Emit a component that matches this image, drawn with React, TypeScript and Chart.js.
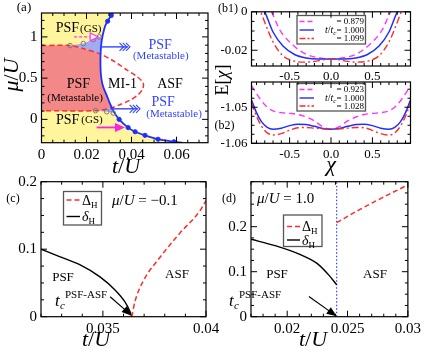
import React, { useEffect, useRef } from "react";
import { Chart, registerables } from "chart.js";

Chart.register(...registerables);

const SERIF = '"Liberation Serif", "Times New Roman", serif';
const W = 424, H = 352;
const YW = 36, XH = 22;

const YELLOW = "#fff59d";
const SALMON = "#f38888";
const LAVENDER = "#a2aaf2";
const BLUE = "#1f2fff";
const TBLUE = "#3344ff";
const RED = "#ff2a2a";
const MAGENTA = "#ff33ff";

// ---------------- Panel (a) data ----------------
const aXRange = [0, 0.074];
const aYRange = [-0.283, 1.29];
const aXTicks = [0, 0.02, 0.04, 0.06];
const aXTickLabels = ["0", "0.02", "0.04", "0.06"];
const aYTicks = [0, 0.5, 1];
const aYTickLabels = ["0", "0.5", "1"];

const boundaryT = [0.0318, 0.0300, 0.0284, 0.0272, 0.0266, 0.0263, 0.0262, 0.0263, 0.0267, 0.0275, 0.0290, 0.0303, 0.0320, 0.0345, 0.0385, 0.0416, 0.0460, 0.0518, 0.0589, 0.0625];
const boundaryMu = [1.29, 1.22, 1.14, 1.02, 0.92, 0.82, 0.70, 0.58, 0.48, 0.39, 0.29, 0.20, 0.10, 0.0, -0.10, -0.15, -0.194, -0.241, -0.272, -0.283];

const redT = [0, 0.0127, 0.0193, 0.0260, 0.0327, 0.0379, 0.0423, 0.0452, 0.0450, 0.0430, 0.0395, 0.0350, 0.0304, 0.0245, 0];
const redMu = [0.895, 0.895, 0.852, 0.794, 0.698, 0.60, 0.523, 0.44, 0.37, 0.30, 0.235, 0.18, 0.135, 0.105, 0.105];

const salmonT = [0, 0.0127, 0.0193, 0.0260, 0.0262, 0.0263, 0.0267, 0.0275, 0.0290, 0.0303, 0.0312, 0.0304, 0.0245, 0];
const salmonMu = [0.895, 0.895, 0.852, 0.794, 0.70, 0.58, 0.48, 0.39, 0.29, 0.20, 0.137, 0.135, 0.105, 0.105];

const lavUpT = [0.0127, 0.0186, 0.0231, 0.0257, 0.0272, 0.0266, 0.0263, 0.0260, 0.0193];
const lavUpMu = [0.895, 0.919, 0.969, 1.0, 1.02, 0.92, 0.82, 0.794, 0.852];
const lavLoT = [0.0245, 0.0312, 0.0320, 0.0324, 0.0290];
const lavLoMu = [0.105, 0.137, 0.10, 0.077, 0.093];

const dotT = [0.0310, 0.0294, 0.0345, 0.0385, 0.0416, 0.0460, 0.0518, 0.0589];
const dotMu = [1.26, 1.19, 0.0, -0.10, -0.15, -0.194, -0.241, -0.272];

const circT = [0.0127, 0.0186, 0.0231, 0.0257, 0.0240, 0.0290, 0.0319];
const circMu = [0.895, 0.919, 0.969, 1.0, 0.105, 0.093, 0.077];

const pinkArrowT = [0.0145, 0.0252];
const pinkArrowMu = 1.0;
const magArrowT = [0.0245, 0.0371];
const magArrowMu = -0.098;
const blueArrowUpT = [0.0262, 0.0393];
const blueArrowUpMu = 0.879;
const blueArrowLoT = [0.0306, 0.0438];
const blueArrowLoMu = 0.128;

// ---------------- Panel (b) data ----------------
const bXRange = [-0.96, 0.96];
const bXTicks = [-0.5, 0, 0.5];
const bXTickLabels = ["-0.5", "0.0", "0.5"];
const b1YRange = [-0.0282, 0];
const b1YTicks = [0, -0.02];
const b1YTickLabels = ["0", "-0.02"];
const b2YRange = [-1.06, -1.043];
const b2YTicks = [-1.05, -1.06];
const b2YTickLabels = ["-1.05", "-1.06"];

const b1ChiM = [-0.80, -0.72, -0.62, -0.46, -0.30, -0.13, 0, 0.13, 0.30, 0.46, 0.62, 0.72, 0.80];
const b1EM = [0.004, 0, -0.0093, -0.0173, -0.0221, -0.0240, -0.0245, -0.0240, -0.0221, -0.0173, -0.0093, 0, 0.004];
const b1ChiB = [-0.86, -0.80, -0.70, -0.58, -0.44, -0.30, -0.15, 0, 0.15, 0.30, 0.44, 0.58, 0.70, 0.80, 0.86];
const b1EB = [0.004, 0, -0.0105, -0.0178, -0.0222, -0.0240, -0.0245, -0.0245, -0.0245, -0.0240, -0.0222, -0.0178, -0.0105, 0, 0.004];
const b1ChiR = [-0.90, -0.85, -0.78, -0.70, -0.58, -0.44, -0.32, -0.20, -0.10, 0, 0.10, 0.20, 0.32, 0.44, 0.58, 0.70, 0.78, 0.85, 0.90];
const b1ER = [0.004, 0, -0.0077, -0.0157, -0.0229, -0.0257, -0.0262, -0.0258, -0.0250, -0.0245, -0.0250, -0.0258, -0.0262, -0.0257, -0.0229, -0.0157, -0.0077, 0, 0.004];

const b2Chi = [-0.96, -0.90, -0.84, -0.77, -0.70, -0.60, -0.50, -0.40, -0.30, -0.20, -0.10, 0, 0.10, 0.20, 0.30, 0.40, 0.50, 0.60, 0.70, 0.77, 0.84, 0.90, 0.96];
const b2EM = [-1.0440, -1.0462, -1.0482, -1.0500, -1.0510, -1.0515, -1.0517, -1.0520, -1.0527, -1.0538, -1.0554, -1.0561, -1.0554, -1.0538, -1.0527, -1.0520, -1.0517, -1.0515, -1.0510, -1.0500, -1.0482, -1.0462, -1.0440];
const b2EB = [-1.0480, -1.0515, -1.0540, -1.0556, -1.0561, -1.0558, -1.0551, -1.0547, -1.0548, -1.0553, -1.0559, -1.0561, -1.0559, -1.0553, -1.0548, -1.0547, -1.0551, -1.0558, -1.0561, -1.0556, -1.0540, -1.0515, -1.0480];
const b2ER = [-1.0489, -1.0525, -1.0552, -1.0571, -1.0577, -1.0573, -1.0564, -1.0557, -1.0556, -1.0558, -1.0560, -1.0561, -1.0560, -1.0558, -1.0556, -1.0557, -1.0564, -1.0573, -1.0577, -1.0571, -1.0552, -1.0525, -1.0489];

// ---------------- Panel (c) data ----------------
const cXRange = [0.032, 0.04];
const cYRange = [0, 0.2];
const cXTicks = [0.035, 0.04];
const cXTickLabels = ["0.035", "0.04"];
const cYTicks = [0, 0.1, 0.2];
const cYTickLabels = ["0", "0.1", "0.2"];
const cDeltaSmallT = [0.032, 0.0329, 0.0339, 0.03486, 0.03559, 0.03607, 0.03632, 0.0364];
const cDeltaSmall = [0.100, 0.089, 0.0766, 0.059, 0.0396, 0.022, 0.0074, 0];
const cDeltaBigT = [0.0364, 0.03656, 0.03696, 0.03777, 0.03874, 0.03971, 0.0400];
const cDeltaBig = [0, 0.023, 0.053, 0.088, 0.124, 0.157, 0.172];
const cArrowT = [0.03535, 0.0364];
const cArrowV = [0.0296, 0.0015];

// ---------------- Panel (d) data ----------------
const dXRange = [0.017, 0.03];
const dYRange = [0, 0.3];
const dXTicks = [0.02, 0.025, 0.03];
const dXTickLabels = ["0.02", "0.025", "0.03"];
const dYTicks = [0, 0.1, 0.2];
const dYTickLabels = ["0", "0.1", "0.2"];
const dDeltaSmallT = [0.017, 0.019, 0.021, 0.0225, 0.0234, 0.0241];
const dDeltaSmall = [0.172, 0.158, 0.139, 0.118, 0.094, 0.071];
const dDeltaBigT = [0.0241, 0.026, 0.028, 0.030];
const dDeltaBig = [0.209, 0.238, 0.266, 0.293];
const dTc = 0.0241;
const dArrowT = [0.0218, 0.0241];
const dArrowV = [0.0447, 0.001];

// ---------------- helpers ----------------
const pts = (xs: number[], ys: number[]) => xs.map((x, i) => ({ x, y: ys[i] }));
const fnt = (size: number, it = false) => `${it ? "italic " : ""}${size}px ${SERIF}`;

type Seg = { s: string; size: number; it?: boolean; dy?: number; dx?: number };

function rich(ctx: CanvasRenderingContext2D, segs: Seg[], x: number, y: number, align = "left", color = "#000") {
  ctx.save();
  ctx.fillStyle = color;
  ctx.textBaseline = "alphabetic";
  ctx.textAlign = "left";
  let w = 0;
  for (const g of segs) {
    ctx.font = fnt(g.size, g.it);
    w += ctx.measureText(g.s).width + (g.dx || 0);
  }
  let cx = align === "center" ? x - w / 2 : align === "right" ? x - w : x;
  for (const g of segs) {
    ctx.font = fnt(g.size, g.it);
    cx += g.dx || 0;
    ctx.fillText(g.s, cx, y + (g.dy || 0));
    cx += ctx.measureText(g.s).width;
  }
  ctx.restore();
}

function richRot(ctx: CanvasRenderingContext2D, segs: Seg[], x: number, y: number) {
  ctx.save();
  ctx.translate(x, y);
  ctx.rotate(-Math.PI / 2);
  rich(ctx, segs, 0, 0, "center");
  ctx.restore();
}

function arrow(ctx: CanvasRenderingContext2D, x0: number, y0: number, x1: number, y1: number, o: any) {
  const ang = Math.atan2(y1 - y0, x1 - x0);
  const ux = Math.cos(ang), uy = Math.sin(ang);
  const px = -uy, py = ux;
  const len = o.len ?? 10, hw = o.hw ?? 4;
  ctx.save();
  ctx.strokeStyle = o.color;
  ctx.fillStyle = o.color;
  ctx.lineWidth = o.width ?? 1.2;
  ctx.setLineDash(o.dash ?? []);
  const ex = o.head === "chevron" ? x1 - ux * 2 : x1 - ux * len * 0.8;
  const ey = o.head === "chevron" ? y1 - uy * 2 : y1 - uy * len * 0.8;
  ctx.beginPath();
  ctx.moveTo(x0, y0);
  ctx.lineTo(ex, ey);
  ctx.stroke();
  ctx.setLineDash([]);
  if (o.head === "chevron") {
    ctx.lineWidth = 1.1;
    for (let k = 0; k < 3; k++) {
      const tx = x1 - ux * k * 3.2, ty = y1 - uy * k * 3.2;
      ctx.beginPath();
      ctx.moveTo(tx - ux * 4 + px * 4, ty - uy * 4 + py * 4);
      ctx.lineTo(tx, ty);
      ctx.lineTo(tx - ux * 4 - px * 4, ty - uy * 4 - py * 4);
      ctx.stroke();
    }
  } else {
    ctx.beginPath();
    ctx.moveTo(x1, y1);
    ctx.lineTo(x1 - ux * len + px * hw, y1 - uy * len + py * hw);
    ctx.lineTo(x1 - ux * len - px * hw, y1 - uy * len - py * hw);
    ctx.closePath();
    if (o.head === "open") {
      ctx.fillStyle = "#fff";
      ctx.fill();
      ctx.lineWidth = 1.2;
      ctx.stroke();
    } else {
      ctx.fill();
    }
  }
  ctx.restore();
}

function legendBox(ctx: CanvasRenderingContext2D, box: number[], rows: any[], lx: number[], tx: number, align: string, size: number) {
  ctx.save();
  ctx.fillStyle = "#fff";
  ctx.fillRect(box[0], box[1], box[2] - box[0], box[3] - box[1]);
  ctx.strokeStyle = "#555";
  ctx.lineWidth = 1.3;
  ctx.strokeRect(box[0], box[1], box[2] - box[0], box[3] - box[1]);
  for (const r of rows) {
    ctx.strokeStyle = r.color;
    ctx.lineWidth = r.width ?? 1.4;
    ctx.setLineDash(r.dash ?? []);
    ctx.beginPath();
    ctx.moveTo(lx[0], r.y);
    ctx.lineTo(lx[1], r.y);
    ctx.stroke();
    ctx.setLineDash([]);
    rich(ctx, r.segs, tx, r.y + size * 0.33, align);
  }
  ctx.restore();
}

function tcLabel(ctx: CanvasRenderingContext2D, x: number, y: number) {
  rich(ctx, [{ s: "t", size: 17, it: true }], x, y);
  rich(ctx, [{ s: "c", size: 11, it: true }], x + 5, y + 3);
  rich(ctx, [{ s: "PSF-ASF", size: 11 }], x + 10, y - 8);
}

function frame(chart: any, sp: any) {
  const { ctx, chartArea: a } = chart;
  const xs = chart.scales.x, ys = chart.scales.y;
  const steps = (min: number, max: number, step: number) => {
    const out: number[] = [];
    const n0 = Math.ceil(min / step - 1e-6), n1 = Math.floor(max / step + 1e-6);
    for (let n = n0; n <= n1; n++) out.push(n * step);
    return out;
  };
  ctx.save();
  ctx.strokeStyle = "#000";
  ctx.lineWidth = 1;
  ctx.beginPath();
  const isMaj = (arr: number[], v: number, st: number) => arr.some((t) => Math.abs(t - v) < st * 0.05);
  for (const v of steps(xs.min, xs.max, sp.xMinor)) {
    if (isMaj(sp.xTicks, v, sp.xMinor)) continue;
    const p = xs.getPixelForValue(v);
    ctx.moveTo(p, a.bottom); ctx.lineTo(p, a.bottom - 3);
    ctx.moveTo(p, a.top); ctx.lineTo(p, a.top + 3);
  }
  for (const v of sp.xTicks) {
    const p = xs.getPixelForValue(v);
    ctx.moveTo(p, a.bottom); ctx.lineTo(p, a.bottom - 6);
    ctx.moveTo(p, a.top); ctx.lineTo(p, a.top + 6);
  }
  for (const v of steps(ys.min, ys.max, sp.yMinor)) {
    if (isMaj(sp.yTicks, v, sp.yMinor)) continue;
    const p = ys.getPixelForValue(v);
    ctx.moveTo(a.left, p); ctx.lineTo(a.left + 3, p);
    ctx.moveTo(a.right, p); ctx.lineTo(a.right - 3, p);
  }
  for (const v of sp.yTicks) {
    const p = ys.getPixelForValue(v);
    ctx.moveTo(a.left, p); ctx.lineTo(a.left + 6, p);
    ctx.moveTo(a.right, p); ctx.lineTo(a.right - 6, p);
  }
  ctx.stroke();
  ctx.lineWidth = 1.2;
  ctx.strokeRect(a.left, a.top, a.right - a.left, a.bottom - a.top);
  ctx.restore();
}

function build(canvas: HTMLCanvasElement, sp: any) {
  const [L, T, R, B] = sp.rect;
  return new Chart(canvas, {
    type: "scatter",
    data: { datasets: sp.datasets },
    options: {
      responsive: false,
      animation: false,
      events: [],
      layout: { padding: { left: L - YW, top: T, right: W - R, bottom: H - B - XH } },
      plugins: { legend: { display: false }, tooltip: { enabled: false } },
      scales: {
        x: {
          type: "linear",
          min: sp.xr[0],
          max: sp.xr[1],
          grid: { display: false, drawTicks: false },
          border: { display: false },
          afterBuildTicks: (s: any) => { s.ticks = sp.xTicks.map((v: number) => ({ value: v })); },
          afterFit: (s: any) => { s.height = XH; },
          ticks: {
            autoSkip: false, maxRotation: 0, padding: 3, color: "#000",
            font: { family: SERIF, size: sp.tickSize },
            callback: (_v: any, i: number) => sp.xLabels[i],
          },
        },
        y: {
          type: "linear",
          min: sp.yr[0],
          max: sp.yr[1],
          grid: { display: false, drawTicks: false },
          border: { display: false },
          afterBuildTicks: (s: any) => { s.ticks = sp.yTicks.map((v: number) => ({ value: v })); },
          afterFit: (s: any) => { s.width = YW; },
          ticks: {
            autoSkip: false, padding: 4, color: "#000",
            font: { family: SERIF, size: sp.tickSize },
            callback: (_v: any, i: number) => sp.yLabels[i],
          },
        },
      },
    } as any,
    plugins: [
      {
        id: "deco",
        afterDatasetsDraw: (c: any) => sp.deco(c),
        afterDraw: (c: any) => frame(c, sp),
      },
    ],
  } as any);
}

const poly = (data: any[], color: string, order: number, tension = 0) => ({
  data, showLine: true, fill: "shape", backgroundColor: color, borderColor: "rgba(0,0,0,0)",
  borderWidth: 1, pointRadius: 0, tension, order,
});
const curve = (data: any[], color: string, o: any = {}) => ({
  data, showLine: true, fill: false, borderColor: color, borderWidth: o.width ?? 1.5,
  borderDash: o.dash ?? [], pointRadius: 0, tension: o.tension ?? 0,
  cubicInterpolationMode: o.mono ? "monotone" : "default", order: o.order ?? 5,
});

// ---------------- Panels ----------------
function makeA(cv: HTMLCanvasElement) {
  const boundary = pts(boundaryT, boundaryMu);
  const yellow = [{ x: aXRange[0], y: aYRange[0] }, { x: aXRange[0], y: aYRange[1] }, ...boundary];
  return build(cv, {
    rect: [41.5, 7.5, 208, 142.7],
    xr: aXRange, yr: aYRange, xTicks: aXTicks, xLabels: aXTickLabels, yTicks: aYTicks, yLabels: aYTickLabels,
    xMinor: 0.005, yMinor: 0.1, tickSize: 15,
    datasets: [
      poly(yellow, YELLOW, 30, 0.3),
      poly(pts(salmonT, salmonMu), SALMON, 29, 0.2),
      poly(pts(lavUpT, lavUpMu), LAVENDER, 28, 0),
      poly(pts(lavLoT, lavLoMu), LAVENDER, 28, 0),
      curve(pts(redT, redMu), RED, { dash: [5, 3], width: 1.5, tension: 0.3, order: 6 }),
      curve(boundary, BLUE, { width: 1.8, tension: 0.3, order: 5 }),
      { data: pts(dotT, dotMu), showLine: false, pointRadius: 2.1, pointBackgroundColor: BLUE, pointBorderColor: BLUE, order: 2 },
      { data: pts(circT, circMu), showLine: false, pointRadius: 2.3, pointBackgroundColor: "rgba(0,0,0,0)", pointBorderColor: "#7a7a8a", pointBorderWidth: 1, order: 1 },
    ],
    deco: (c: any) => {
      const ctx = c.ctx;
      const X = (v: number) => c.scales.x.getPixelForValue(v);
      const Y = (v: number) => c.scales.y.getPixelForValue(v);
      arrow(ctx, X(pinkArrowT[0]), Y(pinkArrowMu), X(pinkArrowT[1]), Y(pinkArrowMu), { color: MAGENTA, dash: [3, 2], head: "open", width: 1.3, len: 8, hw: 4 });
      arrow(ctx, X(magArrowT[0]), Y(magArrowMu), X(magArrowT[1]), Y(magArrowMu), { color: "#ff22e0", head: "filled", width: 1.8, len: 10, hw: 4.5 });
      arrow(ctx, X(blueArrowUpT[0]), Y(blueArrowUpMu), X(blueArrowUpT[1]), Y(blueArrowUpMu), { color: TBLUE, head: "chevron", width: 1.4 });
      arrow(ctx, X(blueArrowLoT[0]), Y(blueArrowLoMu), X(blueArrowLoT[1]), Y(blueArrowLoMu), { color: TBLUE, head: "chevron", width: 1.4 });
      rich(ctx, [{ s: "PSF", size: 14 }, { s: "(GS)", size: 11, dx: 1 }], X(0.0165), Y(1.12) + 5, "center");
      rich(ctx, [{ s: "PSF", size: 14 }, { s: "(GS)", size: 11, dx: 2, dy: -1 }], X(0.0168), Y(0.0) + 5, "center");
      rich(ctx, [{ s: "PSF", size: 14 }], X(0.0164), Y(0.445) + 5, "center");
      rich(ctx, [{ s: "(Metastable)", size: 11 }], X(0.0149), Y(0.27) + 4, "center");
      rich(ctx, [{ s: "MI-1", size: 14 }], X(0.036), Y(0.445) + 5, "center");
      rich(ctx, [{ s: "ASF", size: 14 }], X(0.0571), Y(0.445) + 5, "center");
      rich(ctx, [{ s: "PSF", size: 14 }], X(0.0527), Y(0.91) + 5, "center", TBLUE);
      rich(ctx, [{ s: "(Metastable)", size: 11 }], X(0.053), Y(0.786) + 4, "center", TBLUE);
      rich(ctx, [{ s: "PSF", size: 14 }], X(0.0541), Y(0.221) + 5, "center", TBLUE);
      rich(ctx, [{ s: "(Metastable)", size: 11 }], X(0.0589), Y(0.077) + 4, "center", TBLUE);
      rich(ctx, [{ s: "(a)", size: 13 }], 24, 11, "center");
      richRot(ctx, [{ s: "μ", size: 22, it: true }, { s: "/", size: 22 }, { s: "U", size: 22, it: true }], 18, 75);
      rich(ctx, [{ s: "t", size: 22, it: true }, { s: "/", size: 22 }, { s: "U", size: 22, it: true }], 126, 173, "center");
    },
  });
}

function makeB(cv: HTMLCanvasElement, which: number) {
  const top = which === 1;
  const tt = (s: string) => [{ s: "t", size: 10, it: true }, { s: "/", size: 10 }, { s: "t", size: 10, it: true }, { s: "c", size: 7, it: true, dy: 2 }, { s, size: 9 }];
  return build(cv, {
    rect: top ? [251.5, 7.3, 410.5, 66] : [251.5, 82, 410.5, 143.3],
    xr: bXRange, yr: top ? b1YRange : b2YRange,
    xTicks: bXTicks, xLabels: bXTickLabels,
    yTicks: top ? b1YTicks : b2YTicks, yLabels: top ? b1YTickLabels : b2YTickLabels,
    xMinor: 0.1, yMinor: top ? 0.005 : 0.0025, tickSize: 13,
    datasets: top
      ? [
          curve(pts(b1ChiM, b1EM), MAGENTA, { dash: [6, 4], width: 1.4, mono: true, order: 3 }),
          curve(pts(b1ChiB, b1EB), BLUE, { width: 1.5, mono: true, order: 2 }),
          curve(pts(b1ChiR, b1ER), RED, { dash: [7, 3, 2, 3], width: 1.4, mono: true, order: 1 }),
        ]
      : [
          curve(pts(b2Chi, b2EM), MAGENTA, { dash: [6, 4], width: 1.4, mono: true, order: 3 }),
          curve(pts(b2Chi, b2EB), BLUE, { width: 1.5, mono: true, order: 2 }),
          curve(pts(b2Chi, b2ER), RED, { dash: [7, 3, 2, 3], width: 1.4, mono: true, order: 1 }),
        ],
    deco: (c: any) => {
      const ctx = c.ctx;
      if (top) {
        legendBox(ctx, [297, 15.5, 365.5, 44], [
          { y: 21.5, color: MAGENTA, dash: [5, 3], segs: [{ s: "= 0.879", size: 9 }] },
          { y: 30, color: BLUE, segs: tt("= 1.000") },
          { y: 38.5, color: RED, dash: [6, 2, 2, 2], segs: [{ s: "= 1.099", size: 9 }] },
        ], [299.5, 314], 364, "right", 9);
        rich(ctx, [{ s: "(b1)", size: 12 }], 228, 11.5, "center");
        richRot(ctx, [{ s: "E", size: 18 }, { s: "[", size: 18 }, { s: "χ", size: 18, it: true }, { s: "]", size: 18 }], 228, 80);
      } else {
        legendBox(ctx, [297, 83.5, 365.5, 111], [
          { y: 89.5, color: MAGENTA, dash: [5, 3], segs: [{ s: "= 0.923", size: 9 }] },
          { y: 98, color: BLUE, segs: tt("= 1.000") },
          { y: 106, color: RED, dash: [6, 2, 2, 2], segs: [{ s: "= 1.028", size: 9 }] },
        ], [299.5, 314], 364, "right", 9);
        rich(ctx, [{ s: "(b2)", size: 12 }], 224.5, 129, "center");
        rich(ctx, [{ s: "χ", size: 22, it: true }], 331, 171, "center");
      }
    },
  });
}

function makeC(cv: HTMLCanvasElement) {
  return build(cv, {
    rect: [41, 181.7, 206, 316.7],
    xr: cXRange, yr: cYRange, xTicks: cXTicks, xLabels: cXTickLabels, yTicks: cYTicks, yLabels: cYTickLabels,
    xMinor: 0.001, yMinor: 0.025, tickSize: 15,
    datasets: [
      curve(pts(cDeltaSmallT, cDeltaSmall), "#000", { width: 1.4, mono: true, order: 2 }),
      curve(pts(cDeltaBigT, cDeltaBig), RED, { dash: [5, 3], width: 1.5, mono: true, order: 1 }),
    ],
    deco: (c: any) => {
      const ctx = c.ctx;
      const X = (v: number) => c.scales.x.getPixelForValue(v);
      const Y = (v: number) => c.scales.y.getPixelForValue(v);
      legendBox(ctx, [63.5, 191.5, 101.5, 225], [
        { y: 200, color: RED, dash: [5, 3], segs: [{ s: "Δ", size: 14 }, { s: "H", size: 9, dy: 3 }] },
        { y: 216.5, color: "#000", segs: [{ s: "δ", size: 14, it: true }, { s: "H", size: 9, dy: 3 }] },
      ], [66.5, 80], 82, "left", 14);
      rich(ctx, [{ s: "μ", size: 15, it: true }, { s: "/", size: 15 }, { s: "U", size: 15, it: true }, { s: " = −0.1", size: 15 }], 112, 205, "left");
      rich(ctx, [{ s: "PSF", size: 13 }], 63, 281, "center");
      rich(ctx, [{ s: "ASF", size: 13 }], 177, 278, "center");
      tcLabel(ctx, 55, 306);
      arrow(ctx, X(cArrowT[0]), Y(cArrowV[0]), X(cArrowT[1]), Y(cArrowV[1]), { color: "#000", head: "filled", width: 1.2, len: 10, hw: 4 });
      rich(ctx, [{ s: "(c)", size: 12 }], 13, 202, "center");
      rich(ctx, [{ s: "t", size: 22, it: true }, { s: "/", size: 22 }, { s: "U", size: 22, it: true }], 96, 346, "center");
    },
  });
}

function makeD(cv: HTMLCanvasElement) {
  return build(cv, {
    rect: [251, 181.7, 412, 316.7],
    xr: dXRange, yr: dYRange, xTicks: dXTicks, xLabels: dXTickLabels, yTicks: dYTicks, yLabels: dYTickLabels,
    xMinor: 0.001, yMinor: 0.025, tickSize: 15,
    datasets: [
      curve(pts([dTc, dTc], dYRange), "#2233ff", { dash: [1.5, 2], width: 1.1, order: 3 }),
      curve(pts(dDeltaSmallT, dDeltaSmall), "#000", { width: 1.4, mono: true, order: 2 }),
      curve(pts(dDeltaBigT, dDeltaBig), RED, { dash: [5, 3], width: 1.5, mono: true, order: 1 }),
    ],
    deco: (c: any) => {
      const ctx = c.ctx;
      const X = (v: number) => c.scales.x.getPixelForValue(v);
      const Y = (v: number) => c.scales.y.getPixelForValue(v);
      legendBox(ctx, [283.5, 215, 322, 246.5], [
        { y: 226.5, color: RED, dash: [5, 3], segs: [{ s: "Δ", size: 14 }, { s: "H", size: 9, dy: 3 }] },
        { y: 240, color: "#000", segs: [{ s: "δ", size: 14, it: true }, { s: "H", size: 9, dy: 3 }] },
      ], [287, 300], 302, "left", 14);
      rich(ctx, [{ s: "μ", size: 15, it: true }, { s: "/", size: 15 }, { s: "U", size: 15, it: true }, { s: " = 1.0", size: 15 }], 257, 203, "left");
      rich(ctx, [{ s: "PSF", size: 13 }], 277, 278, "center");
      rich(ctx, [{ s: "ASF", size: 13 }], 375, 278, "center");
      tcLabel(ctx, 229, 306);
      arrow(ctx, X(dArrowT[0]), Y(dArrowV[0]), X(dArrowT[1]), Y(dArrowV[1]), { color: "#000", head: "filled", width: 1.2, len: 10, hw: 4 });
      rich(ctx, [{ s: "(d)", size: 12 }], 229, 202, "center");
      rich(ctx, [{ s: "t", size: 22, it: true }, { s: "/", size: 22 }, { s: "U", size: 22, it: true }], 313, 346, "center");
    },
  });
}

export default function App() {
  const r0 = useRef<HTMLCanvasElement>(null);
  const r1 = useRef<HTMLCanvasElement>(null);
  const r2 = useRef<HTMLCanvasElement>(null);
  const r3 = useRef<HTMLCanvasElement>(null);
  const r4 = useRef<HTMLCanvasElement>(null);
  useEffect(() => {
    const charts = [
      makeA(r0.current!),
      makeB(r1.current!, 1),
      makeB(r2.current!, 2),
      makeC(r3.current!),
      makeD(r4.current!),
    ];
    return () => charts.forEach((c) => c.destroy());
  }, []);
  const st: React.CSSProperties = { position: "absolute", left: 0, top: 0, width: W, height: H };
  return (
    <div style={{ position: "fixed", left: 0, top: 0, width: W, height: H, background: "#fff" }}>
      {[r0, r1, r2, r3, r4].map((r, i) => (
        <canvas key={i} ref={r} width={W} height={H} style={st} />
      ))}
    </div>
  );
}
